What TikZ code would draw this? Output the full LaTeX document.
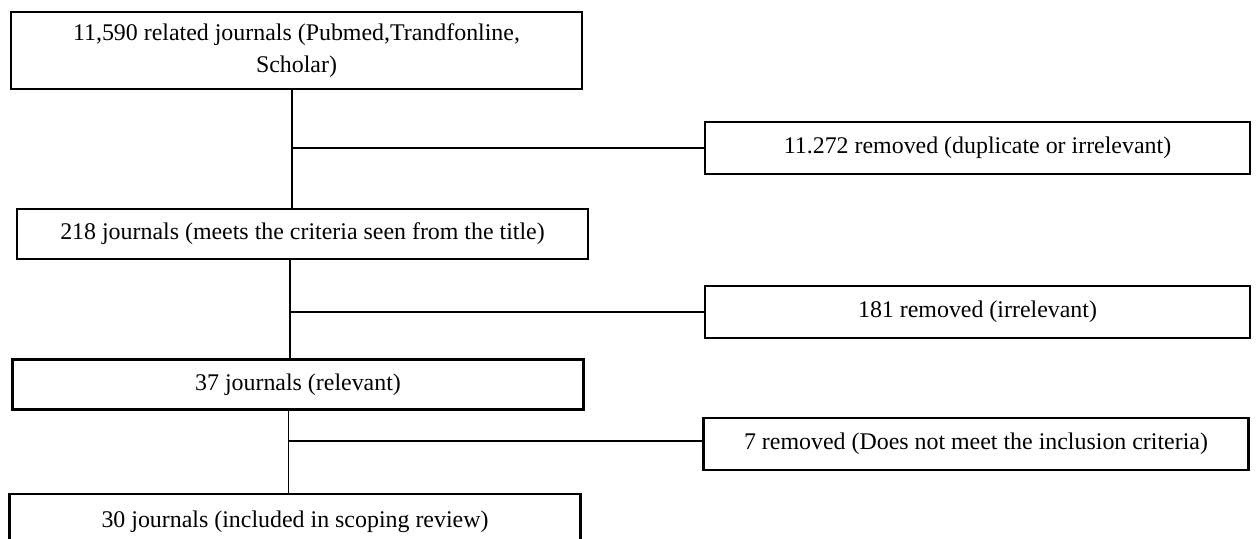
\documentclass[tikz,border=0pt]{standalone}
\usepackage{fontspec}
\setmainfont{Liberation Serif}
\begin{document}
\begin{tikzpicture}[x=1pt,y=-1pt]
\tikzset{
  box/.style={draw, line width=2.6pt, inner sep=0pt, align=center, font=\fontsize{23.9}{32}\selectfont},
  leftbox/.style={box, minimum width=571pt, minimum height=50pt},
  rightbox/.style={box, minimum width=545pt, minimum height=52pt},
  conn/.style={line width=1.3pt}
}
\useasboundingbox (0,0) rectangle (1260,538);
\clip (0,0) rectangle (1260,538);
\fill[white] (0,0) rectangle (1260,538);

\node[leftbox, minimum height=77pt] (n1) at (296.5,50.5) {11,590 related journals (Pubmed,Trandfonline,\\Scholar)};
\node[leftbox] (n2) at (302.5,234) {218 journals (meets the criteria seen from the title)};
\node[leftbox] (n3) at (298,384.5) {37 journals (relevant)};
\node[leftbox, minimum height=56pt] (n4) at (295,522) {30 journals (included in scoping review)};

\node[rightbox] (r1) at (977.5,148) {11.272 removed (duplicate or irrelevant)};
\node[rightbox] (r2) at (977.5,312) {181 removed (irrelevant)};
\node[rightbox] (r3) at (976,444) {7 removed (Does not meet the inclusion criteria)};

\coordinate (j1) at (292,148);
\coordinate (j2) at (290,312);
\coordinate (j3) at (288.5,441);

\draw[conn] (n1.south -| j1) -- (n2.north -| j1);
\draw[conn] (j1) -- (r1.west |- j1);
\draw[conn] (n2.south -| j2) -- (n3.north -| j2);
\draw[conn] (j2) -- (r2.west |- j2);
\draw[conn] (n3.south -| j3) -- (n4.north -| j3);
\draw[conn] (j3) -- (r3.west |- j3);
\end{tikzpicture}
\end{document}
